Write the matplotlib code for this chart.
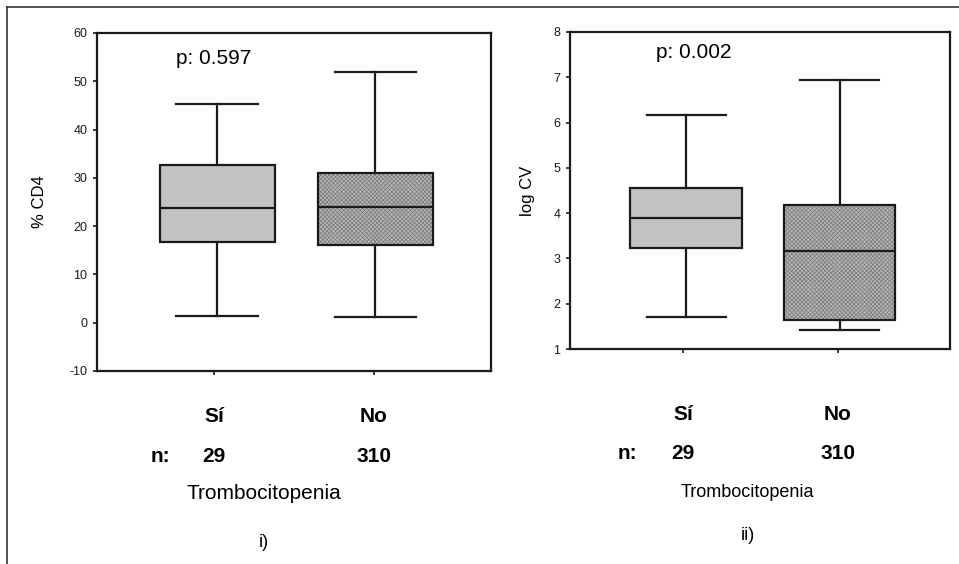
import matplotlib
matplotlib.use('Agg')
import matplotlib.pyplot as plt
from matplotlib.lines import Line2D
from matplotlib.colors import to_rgba

plt.rcParams['font.family'] = ['Liberation Sans', 'DejaVu Sans']
plt.rcParams['axes.unicode_minus'] = False
plt.rcParams['hatch.linewidth'] = 0.6

# grupos
grupos = ['Sí', 'No']
n_grupo = ['29', '310']

# % CD4 (panel i): whislo, q1, med, q3, whishi
cd4_lo = [1.4, 1.2]
cd4_q1 = [16.7, 16.1]
cd4_med = [23.8, 23.9]
cd4_q3 = [32.7, 31.1]
cd4_hi = [45.3, 52.0]

# log CV (panel ii)
cv_lo = [1.71, 1.42]
cv_q1 = [3.23, 1.64]
cv_med = [3.89, 3.17]
cv_q3 = [4.56, 4.18]
cv_hi = [6.17, 6.94]

p_vals = ['p: 0.597', 'p: 0.002']


def stats(lo, q1, med, q3, hi):
    return [dict(whislo=lo[i], q1=q1[i], med=med[i], q3=q3[i], whishi=hi[i],
                 fliers=[]) for i in range(len(lo))]


def panel(ax, st, ylim, yticks, ylabel, ptxt, ppos, lab_y, n_x, tit_x, tit, ylab_x,
          xlim):
    bp = ax.bxp(st, positions=[1.02, 2.01], widths=0.72, capwidths=0.51,
                patch_artist=True, showfliers=False,
                boxprops=dict(linewidth=1.6, edgecolor='#1a1a1a'),
                medianprops=dict(color='#1a1a1a', linewidth=1.6),
                whiskerprops=dict(color='#1a1a1a', linewidth=1.6),
                capprops=dict(color='#1a1a1a', linewidth=1.6))
    bp['boxes'][0].set_facecolor('#c2c2c2')
    bp['boxes'][1].set_facecolor('#b8b8b8')
    bp['boxes'][1].set_hatch('xxxxxxxx')
    bp['boxes'][1]._hatch_color = to_rgba('#808080')
    ax.set_xlim(*xlim)
    ax.set_ylim(*ylim)
    ax.set_yticks(yticks)
    ax.set_xticks([1, 2])
    ax.set_xticklabels([])
    ax.tick_params(direction='out', length=3, width=1.2, labelsize=9,
                   colors='#1a1a1a', pad=4)
    for s in ax.spines.values():
        s.set_linewidth(1.6)
        s.set_color('#1a1a1a')
    ax.set_ylabel(ylabel, fontsize=12)
    ax.yaxis.set_label_coords(ylab_x, 0.5)
    ax.text(ppos[0], ppos[1], ptxt, transform=ax.transAxes, fontsize=15,
            ha='center', va='center')
    tr = ax.get_xaxis_transform()
    for i, g in enumerate(grupos):
        ax.text(i + 1, lab_y[0], g, transform=tr, ha='center', va='center',
                fontsize=15, fontweight='bold')
        ax.text(i + 1, lab_y[1], n_grupo[i], transform=tr, ha='center',
                va='center', fontsize=15, fontweight='bold')
    ax.text(n_x, lab_y[1], 'n:', transform=ax.transAxes, ha='center',
            va='center', fontsize=15, fontweight='bold')
    ax.text(tit_x, lab_y[2], 'Trombocitopenia', transform=ax.transAxes,
            ha='center', va='center', fontsize=tit[0])
    ax.text(tit_x, lab_y[3], tit[1], transform=ax.transAxes, ha='center',
            va='center', fontsize=13)


fig = plt.figure(figsize=(9.59, 5.64), dpi=100)
ax1 = fig.add_axes([0.1011, 0.3422, 0.4109, 0.5993])
ax2 = fig.add_axes([0.5944, 0.3812, 0.3962, 0.5621])

panel(ax1, stats(cd4_lo, cd4_q1, cd4_med, cd4_q3, cd4_hi), (-10, 60),
      range(-10, 61, 10), '% CD4', p_vals[0], (0.296, 0.926),
      (-0.136, -0.254, -0.361, -0.506), 0.16, 0.424, (15, 'i)'), -0.127,
      (0.269, 2.732))
panel(ax2, stats(cv_lo, cv_q1, cv_med, cv_q3, cv_hi), (1, 8),
      range(1, 9), 'log CV', p_vals[1], (0.326, 0.934),
      (-0.208, -0.331, -0.454, -0.587), 0.15, 0.468, (13, 'ii)'), -0.092,
      (0.271, 2.723))

# marco de la figura
fig.add_artist(Line2D([7 / 959, 1], [1 - 7 / 564, 1 - 7 / 564],
                      transform=fig.transFigure, color='#333333', lw=1.2))
fig.add_artist(Line2D([7 / 959, 7 / 959], [0, 1 - 7 / 564],
                      transform=fig.transFigure, color='#333333', lw=1.2))

fig.savefig('out.png', dpi=100)
